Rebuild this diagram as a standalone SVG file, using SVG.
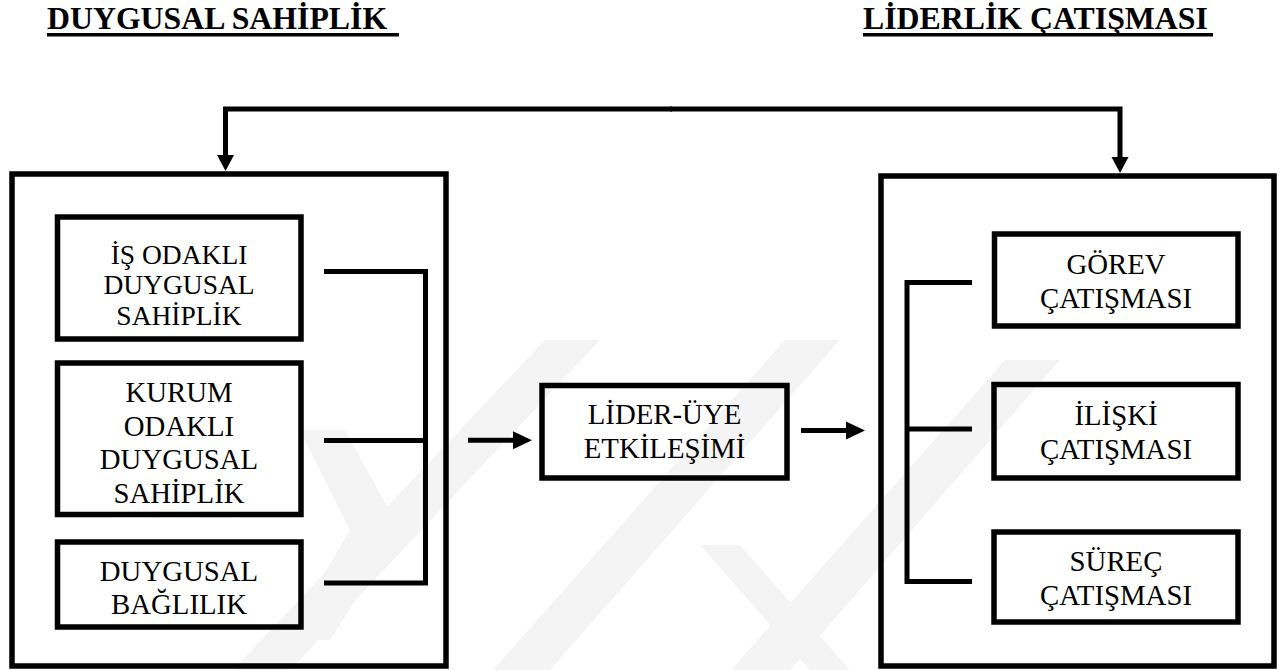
<svg xmlns="http://www.w3.org/2000/svg" width="1281" height="670" viewBox="0 0 1281 670">
<style>
.box{fill:none;stroke:#000;stroke-width:5.5}
.frame{fill:none;stroke:#000;stroke-width:5.5}
.t{font-family:'Liberation Serif','Times New Roman',serif;font-size:28.8px;fill:#000;text-anchor:middle}
.ts{font-size:27.5px}
.h{font-family:'Liberation Serif','Times New Roman',serif;font-size:31.8px;font-weight:bold;fill:#000}
.ln{fill:none;stroke:#000;stroke-width:5}
.wm{fill:#f4f4f4}
</style>
<defs>
<marker id="ah" viewBox="0 -9 16 18" refX="0" refY="0" markerWidth="16" markerHeight="18" markerUnits="userSpaceOnUse" orient="auto">
<path d="M0,-8.5 L16,0 L0,8.5 Z" fill="#000"/>
</marker>
<marker id="ah2" viewBox="0 -10 19 20" refX="0" refY="0" markerWidth="19" markerHeight="20" markerUnits="userSpaceOnUse" orient="auto">
<path d="M0,-9 L19,0 L0,9 Z" fill="#000"/>
</marker>
</defs>
<rect width="1281" height="670" fill="#fff"/>
<g id="watermark">
<polygon class="wm" points="233,670 290,670 600,340 545,340"/>
<polygon class="wm" points="493,670 550,670 840,340 785,340"/>
<polygon class="wm" points="731,670 790,670 1060,360 1005,360"/>
<polygon class="wm" points="300,430 345,430 400,530 330,640 285,640 350,530"/>
<polygon class="wm" points="700,545 740,545 850,670 810,670"/>
</g>
<g id="headings">
<text class="h" x="47" y="29">DUYGUSAL SAHİPLİK</text>
<rect x="47" y="33" width="352" height="3.5" fill="#000"/>
<text class="h" x="863" y="29">LİDERLİK ÇATIŞMASI</text>
<rect x="863" y="33" width="350" height="3.5" fill="#000"/>
</g>
<g id="duygusal-sahiplik-group">
<rect class="frame" x="12" y="174" width="434" height="492"/>
</g>
<g id="liderlik-catismasi-group">
<rect class="frame" x="881" y="176" width="393" height="490"/>
</g>
<g id="is-odakli">
<rect class="box" x="57.5" y="217" width="243.5" height="122"/>
<text class="t ts" x="179" y="263.5">İŞ ODAKLI</text>
<text class="t ts" x="179" y="294">DUYGUSAL</text>
<text class="t ts" x="179" y="324.5">SAHİPLİK</text>
</g>
<g id="kurum-odakli">
<rect class="box" x="57.5" y="363" width="243.5" height="151.5"/>
<text class="t" x="179" y="402">KURUM</text>
<text class="t" x="179" y="435.5">ODAKLI</text>
<text class="t" x="179" y="469">DUYGUSAL</text>
<text class="t" x="179" y="502.5">SAHİPLİK</text>
</g>
<g id="duygusal-baglilik">
<rect class="box" x="57.5" y="542" width="243.5" height="85"/>
<text class="t" x="179" y="580.5">DUYGUSAL</text>
<text class="t" x="179" y="614">BAĞLILIK</text>
</g>
<g id="lider-uye">
<rect class="box" x="542" y="385.5" width="245" height="92.5"/>
<text class="t" x="664.5" y="424.3">LİDER-ÜYE</text>
<text class="t" x="664.5" y="457.7">ETKİLEŞİMİ</text>
</g>
<g id="gorev">
<rect class="box" x="994.5" y="234" width="243.5" height="92"/>
<text class="t" x="1116" y="274">GÖREV</text>
<text class="t" x="1116" y="307.5">ÇATIŞMASI</text>
</g>
<g id="iliski">
<rect class="box" x="994" y="384.5" width="244" height="93.5"/>
<text class="t" x="1116" y="425">İLİŞKİ</text>
<text class="t" x="1116" y="459">ÇATIŞMASI</text>
</g>
<g id="surec">
<rect class="box" x="994" y="532" width="244" height="90"/>
<text class="t" x="1116" y="571">SÜREÇ</text>
<text class="t" x="1116" y="605">ÇATIŞMASI</text>
</g>
<g id="connectors">
<path class="ln" d="M672,109 H225.5 V155" marker-end="url(#ah)"/>
<path class="ln" d="M670,109 H1120 V157" marker-end="url(#ah)"/>
<path class="ln" d="M324,271.5 H425.5 V583 H324"/>
<path class="ln" d="M324,440.5 H425.5"/>
<path class="ln" d="M972,282.5 H907 V581.5 H972"/>
<path class="ln" d="M907,429 H972"/>
<path class="ln" d="M468,440.3 H513" marker-end="url(#ah2)"/>
<path class="ln" d="M801,430.5 H846" marker-end="url(#ah2)"/>
</g>
</svg>
